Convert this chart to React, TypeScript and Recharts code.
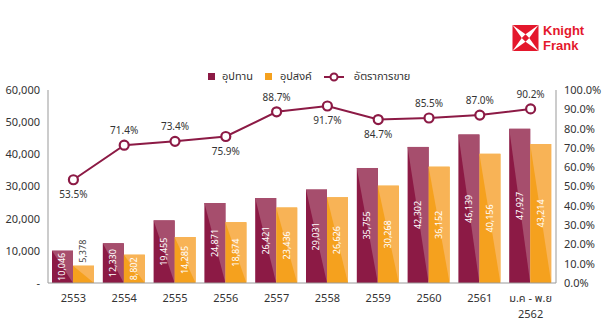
import { ComposedChart, Bar, Line, XAxis, YAxis, LabelList } from 'recharts'

const CATEGORIES = ['2553', '2554', '2555', '2556', '2557', '2558', '2559', '2560', '2561', 'ม.ค - พ.ย\n2562']
const SUPPLY = [10046, 12330, 19455, 24871, 26421, 29031, 35755, 42302, 46139, 47927]
const DEMAND = [5378, 8802, 14285, 18874, 23436, 26626, 30268, 36152, 40156, 43214]
const RATE = [53.5, 71.4, 73.4, 75.9, 88.7, 91.7, 84.7, 85.5, 87.0, 90.2]
const LEFT_TICKS = [0, 10000, 20000, 30000, 40000, 50000, 60000]
const RIGHT_TICKS = [0, 10, 20, 30, 40, 50, 60, 70, 80, 90, 100]

// which side of the point each rate label sits on
const RATE_LABEL_BELOW = [true, false, false, true, false, true, true, false, false, false]

const MAROON = '#8c1a45'
const MAROON_LIGHT = '#a64e6d'
const ORANGE = '#f5a11e'
const ORANGE_LIGHT = '#f8b356'
const FONT = '"Noto Sans Thai", "Noto Sans", "Open Sans", sans-serif'

const data = CATEGORIES.map((c, i) => ({
  name: c,
  supply: SUPPLY[i],
  demand: DEMAND[i],
  rate: RATE[i],
}))

const fmt = (v: number) => v.toLocaleString('en-US')

function shadedBar(dark: string, light: string) {
  return (props: any) => {
    const { x, y, width, height } = props
    if (!height || height <= 0) return null
    return (
      <g>
        <rect x={x} y={y} width={width} height={height} fill={dark} />
        <polygon points={`${x},${y} ${x + width},${y} ${x + width},${y + height}`} fill={light} />
      </g>
    )
  }
}

function BarValue(props: any) {
  const { x, y, width, height, value } = props
  const cx = x + width / 2
  const text = fmt(value)
  const len = text.length * 4.5
  // too short to hold the label: stand it on top of the bar
  if (height < len + 4) {
    const by = y - 3
    return (
      <text
        x={cx}
        y={by}
        transform={`rotate(-90 ${cx} ${by})`}
        textAnchor="start"
        dominantBaseline="central"
        fill="#444"
        fontSize={9}
        fontFamily={FONT}
      >
        {text}
      </text>
    )
  }
  const cy = y + height / 2
  return (
    <text
      x={cx}
      y={cy}
      transform={`rotate(-90 ${cx} ${cy})`}
      textAnchor="middle"
      dominantBaseline="central"
      fill="#fff"
      fontSize={9}
      fontFamily={FONT}
    >
      {text}
    </text>
  )
}

function RateLabel(props: any) {
  const { x, y, value, index } = props
  const below = RATE_LABEL_BELOW[index]
  return (
    <text
      x={x}
      y={below ? y + 18 : y - 11}
      textAnchor="middle"
      fill="#333"
      fontSize={10}
      fontFamily={FONT}
    >
      {value.toFixed(1)}%
    </text>
  )
}

function RateDot(props: any) {
  const { cx, cy } = props
  return <circle cx={cx} cy={cy} r={4.5} fill="#fff" stroke={MAROON} strokeWidth={2.2} />
}

function CategoryTick(props: any) {
  const { x, y, payload } = props
  const lines = String(payload.value).split('\n')
  return (
    <text x={x} y={y + 11} textAnchor="middle" fill="#333" fontSize={11} fontFamily={FONT}>
      {lines.map((l, i) => (
        <tspan key={i} x={x} dy={i === 0 ? 0 : 16}>
          {l}
        </tspan>
      ))}
    </text>
  )
}

function ChartLegend() {
  const item = { display: 'flex', alignItems: 'center', marginRight: 12 }
  return (
    <div
      style={{
        position: 'absolute',
        left: 208,
        top: 68,
        display: 'flex',
        fontFamily: FONT,
        fontSize: 11,
        color: '#333',
      }}
    >
      <div style={item}>
        <span style={{ width: 7, height: 7, background: MAROON, marginRight: 7 }} />
        อุปทาน
      </div>
      <div style={item}>
        <span style={{ width: 7, height: 7, background: ORANGE, marginRight: 8 }} />
        อุปสงค์
      </div>
      <div style={item}>
        <svg width={20} height={10} style={{ marginRight: 10 }}>
          <line x1={0} y1={5} x2={20} y2={5} stroke={MAROON} strokeWidth={2} />
          <circle cx={10} cy={5} r={3.5} fill="#fff" stroke={MAROON} strokeWidth={2} />
        </svg>
        อัตราการขาย
      </div>
    </div>
  )
}

function Logo() {
  const red = '#e4172c'
  return (
    <div style={{ position: 'absolute', left: 512, top: 23, display: 'flex', alignItems: 'center' }}>
      <svg width={27} height={26} viewBox="0 0 28 28">
        <polygon points="0,0 28,0 14,10" fill={red} />
        <polygon points="0,28 28,28 14,18" fill={red} />
        <polygon points="0,0 10,14 0,28" fill={red} />
        <polygon points="28,0 18,14 28,28" fill={red} />
        <polygon points="14,10 18,14 14,18 10,14" fill={red} />
      </svg>
      <div
        style={{
          marginLeft: 4,
          color: red,
          fontFamily: '"Liberation Sans", Arial, sans-serif',
          fontWeight: 700,
          fontSize: 13,
          lineHeight: '15px',
        }}
      >
        <div>Knight</div>
        <div>Frank</div>
      </div>
    </div>
  )
}

export default function App() {
  return (
    <div style={{ position: 'absolute', left: 0, top: 0, width: 610, height: 336, background: '#fff' }}>
      <Logo />
      <ChartLegend />
      <ComposedChart
        width={610}
        height={336}
        data={data}
        margin={{ top: 90, right: 0, bottom: 0, left: 0 }}
        barGap={0}
        barSize={21}
      >
        <XAxis
          dataKey="name"
          interval={0}
          tick={<CategoryTick />}
          tickLine={false}
          axisLine={{ stroke: '#999' }}
          height={53}
        />
        <YAxis
          yAxisId="left"
          width={48}
          domain={[0, 60000]}
          ticks={LEFT_TICKS}
          tickFormatter={(v: number) => (v === 0 ? '-' : fmt(v))}
          tick={{ fontSize: 11, fill: '#333', fontFamily: FONT }}
          tickLine={false}
          axisLine={{ stroke: '#999' }}
        />
        <YAxis
          yAxisId="right"
          orientation="right"
          width={54}
          domain={[0, 100]}
          ticks={RIGHT_TICKS}
          tickFormatter={(v: number) => `${v.toFixed(1)}%`}
          tick={{ fontSize: 11, fill: '#333', fontFamily: FONT }}
          tickLine={false}
          axisLine={{ stroke: '#999' }}
        />
        <Bar yAxisId="left" dataKey="supply" name="อุปทาน" fill={MAROON} shape={shadedBar(MAROON, MAROON_LIGHT)} isAnimationActive={false}>
          <LabelList dataKey="supply" content={<BarValue />} />
        </Bar>
        <Bar yAxisId="left" dataKey="demand" name="อุปสงค์" fill={ORANGE} shape={shadedBar(ORANGE, ORANGE_LIGHT)} isAnimationActive={false}>
          <LabelList dataKey="demand" content={<BarValue />} />
        </Bar>
        <Line
          yAxisId="right"
          dataKey="rate"
          name="อัตราการขาย"
          stroke={MAROON}
          strokeWidth={2}
          dot={<RateDot />}
          activeDot={false}
          isAnimationActive={false}
        >
          <LabelList dataKey="rate" content={<RateLabel />} />
        </Line>
      </ComposedChart>
    </div>
  )
}
